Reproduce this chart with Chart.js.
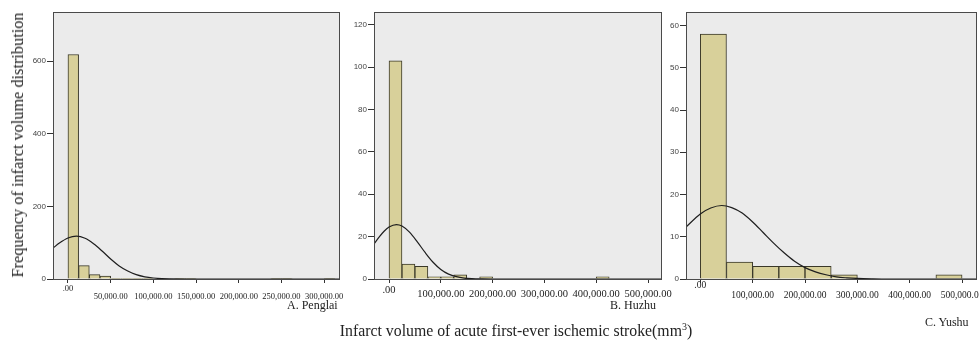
<!DOCTYPE html>
<html>
<head>
<meta charset="utf-8">
<script src="https://cdn.jsdelivr.net/npm/chart.js@4"></script>
<style>
  html,body{margin:0;padding:0;background:#fff;}
  #wrap{position:relative;width:979px;height:342px;overflow:hidden;background:#fff;}
  canvas{position:absolute;top:0;}
  .t{position:absolute;font-family:"Liberation Serif","DejaVu Serif",serif;color:#222;white-space:nowrap;}
  #ytitle{left:18px;top:145px;font-size:16.3px;transform:translate(-50%,-50%) rotate(-90deg);}
  #xtitle{left:516px;top:331px;font-size:15.8px;transform:translate(-50%,-50%);}
  .pl{font-size:12px;transform:translateY(-50%);}
</style>
</head>
<body>
<div id="wrap">
  <canvas id="cA"></canvas>
  <canvas id="cB"></canvas>
  <canvas id="cC"></canvas>
  <div class="t" id="ytitle">Frequency of infarct volume distribution</div>
  <div class="t" id="xtitle">Infarct volume of acute first-ever ischemic stroke(mm<sup style="font-size:10px;vertical-align:6px;line-height:0">3</sup>)</div>
  <div class="t pl" style="left:287px;top:305px;">A. Penglai</div>
  <div class="t pl" style="left:610px;top:305px;">B. Huzhu</div>
  <div class="t pl" style="left:925px;top:322px;">C. Yushu</div>
</div>
<script>
// ---------- Panel A: Penglai ----------
const binWidthA = 12500;
const countsA = [618, 37, 12, 8, 2, 1, 1, 1, 0, 0, 1, 1, 0, 0, 0, 0, 0, 0, 0, 1, 1, 0, 0, 0, 1, 0];
const curveXA = [-17500, -10000, 0, 10000, 20000, 30000, 40000, 50000, 60000, 70000, 80000, 90000, 100000, 110000, 120000, 140000, 160000, 200000, 250000, 318500];
const curveYA = [85, 99, 113, 118, 112, 97, 77, 55, 36, 22, 12, 6, 2.7, 1, 0.4, 0.05, 0, 0, 0, 0];
const xTicksA = [0, 50000, 100000, 150000, 200000, 250000, 300000];
const xLabelsA = ['.00', '50,000.00', '100,000.00', '150,000.00', '200,000.00', '250,000.00', '300,000.00'];
const yTicksA = [0, 200, 400, 600];

// ---------- Panel B: Huzhu ----------
const binWidthB = 25000;
const countsB = [103, 7, 6, 1, 1, 2, 0, 1, 0, 0, 0, 0, 0, 0, 0, 0, 1, 0, 0, 0, 0];
const curveXB = [-29000, -20000, -10000, 0, 14300, 25000, 40000, 55000, 70000, 85000, 100000, 115000, 130000, 145000, 160000, 180000, 200000, 300000, 527000];
const curveYB = [16.5, 19.5, 22.4, 24.5, 25.7, 25.0, 22, 17.4, 12.4, 7.9, 4.5, 2.3, 1.1, 0.45, 0.17, 0.04, 0, 0, 0];
const xTicksB = [0, 100000, 200000, 300000, 400000, 500000];
const xLabelsB = ['.00', '100,000.00', '200,000.00', '300,000.00', '400,000.00', '500,000.00'];
const yTicksB = [0, 20, 40, 60, 80, 100, 120];

// ---------- Panel C: Yushu ----------
const binWidthC = 50000;
const countsC = [58, 4, 3, 3, 3, 1, 0, 0, 0, 1];
const curveXC = [-27300, 0, 20000, 41000, 60000, 80000, 100000, 120000, 140000, 160000, 180000, 200000, 220000, 240000, 260000, 280000, 300000, 330000, 360000, 528500];
const curveYC = [12.3, 15.4, 16.8, 17.4, 16.9, 15.6, 13.5, 11.0, 8.5, 6.2, 4.2, 2.7, 1.7, 1.0, 0.5, 0.27, 0.13, 0.04, 0, 0];
const xTicksC = [0, 100000, 200000, 300000, 400000, 500000];
const xLabelsC = ['.00', '100,000.00', '200,000.00', '300,000.00', '400,000.00', '500,000.00'];
const yTicksC = [0, 10, 20, 30, 40, 50, 60];

const frame = {
  id: 'frame',
  beforeDraw(chart) {
    const {ctx, chartArea: a} = chart;
    ctx.save();
    ctx.fillStyle = '#ebebeb';
    ctx.fillRect(a.left, a.top, a.right - a.left, a.bottom - a.top);
    ctx.restore();
  },
  afterDraw(chart) {
    const {ctx, chartArea: a} = chart;
    ctx.save();
    ctx.strokeStyle = '#4a4a4a';
    ctx.lineWidth = 1;
    ctx.strokeRect(Math.round(a.left) + 0.5, Math.round(a.top) + 0.5, Math.round(a.right - a.left) - 1, Math.round(a.bottom - a.top));
    ctx.restore();
  }
};

function makePanel(id, p) {
  const canvas = document.getElementById(id);
  const padR = 26;
  const W = p.R - p.L + p.yw + padR;
  const H = 312;
  canvas.width = W; canvas.height = H;
  canvas.style.left = (p.L - p.yw) + 'px';
  canvas.style.width = W + 'px'; canvas.style.height = H + 'px';
  const bars = p.counts.map((c, i) => ({x: i * p.bw + p.bw / 2, y: c}));
  const curve = p.cx.map((x, i) => ({x: x, y: p.cy[i]}));
  new Chart(canvas, {
    type: 'bar',
    data: {
      datasets: [
        {type: 'line', data: curve, borderColor: '#1e1e1e', borderWidth: 1.2, pointRadius: 0,
         cubicInterpolationMode: 'monotone', fill: false, order: 0},
        {type: 'bar', data: bars, backgroundColor: '#d8d09a', borderColor: '#3a3828', borderWidth: 1,
         barPercentage: 1, categoryPercentage: 1, order: 1}
      ]
    },
    options: {
      responsive: false, animation: false, devicePixelRatio: 1,
      layout: {padding: {top: 12, right: padR, left: 0, bottom: 0}},
      plugins: {legend: {display: false}, tooltip: {enabled: false}},
      scales: {
        x: {
          type: 'linear', min: p.xmin, max: p.xmax, offset: false,
          border: {display: false},
          grid: {offset: false, drawOnChartArea: false, drawTicks: true, tickLength: 4, color: '#333', lineWidth: 1},
          afterBuildTicks: s => { s.ticks = p.xt.map(v => ({value: v})); },
          afterFit: s => { s.height = H - 279; },
          ticks: {
            autoSkip: false, maxRotation: 0, minRotation: 0, padding: p.xpad, color: '#222',
            font: {family: 'Liberation Serif', size: p.xfs, lineHeight: p.xlh},
            callback: (v, i) => i === 0 ? p.xl[0] : ['', p.xl[i]]
          }
        },
        y: {
          min: 0, max: p.ymax,
          border: {display: false},
          grid: {drawOnChartArea: false, drawTicks: true, tickLength: 6, color: '#333', lineWidth: 1},
          afterBuildTicks: s => { s.ticks = p.yt.map(v => ({value: v})); },
          afterFit: s => { s.width = p.yw; },
          ticks: {padding: 1, color: '#444', font: {family: 'Liberation Sans', size: 8}}
        }
      }
    },
    plugins: [frame]
  });
}

makePanel('cA', {L: 53, R: 340, yw: 30, counts: countsA, bw: binWidthA, cx: curveXA, cy: curveYA,
  xmin: -17500, xmax: 318500, ymax: 735, xt: xTicksA, xl: xLabelsA, yt: yTicksA, xfs: 8.5, xlh: 0.95, xpad: 2});
makePanel('cB', {L: 374, R: 662, yw: 30, counts: countsB, bw: binWidthB, cx: curveXB, cy: curveYB,
  xmin: -29000, xmax: 527000, ymax: 126, xt: xTicksB, xl: xLabelsB, yt: yTicksB, xfs: 10.5, xlh: 0.4, xpad: 5});
makePanel('cC', {L: 686, R: 977, yw: 30, counts: countsC, bw: binWidthC, cx: curveXC, cy: curveYC,
  xmin: -27300, xmax: 528500, ymax: 63.2, xt: xTicksC, xl: xLabelsC, yt: yTicksC, xfs: 9.5, xlh: 1.05, xpad: -2});
</script>
</body>
</html>
